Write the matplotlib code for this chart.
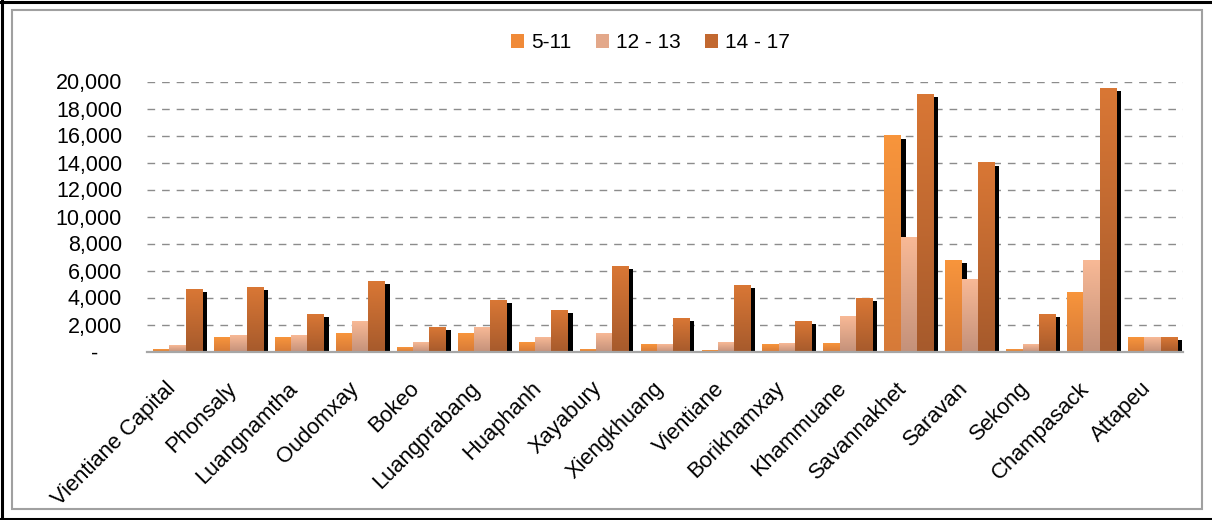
import numpy as np
import matplotlib
matplotlib.use("Agg")
import matplotlib.pyplot as plt
from matplotlib.patches import Rectangle
from matplotlib.lines import Line2D
from matplotlib.transforms import ScaledTranslation
from matplotlib.ticker import FuncFormatter, MultipleLocator

# Children by age group per province
provinces = ["Vientiane Capital", "Phonsaly", "Luangnamtha", "Oudomxay", "Bokeo",
             "Luangprabang", "Huaphanh", "Xayabury", "Xiengkhuang", "Vientiane",
             "Borikhamxay", "Khammuane", "Savannakhet", "Saravan", "Sekong",
             "Champasack", "Attapeu"]
age_5_11 = [150, 1100, 1050, 1400, 370, 1400, 740, 220, 520, 80, 520, 600,
            16000, 6800, 220, 4400, 1050]
age_12_13 = [500, 1250, 1250, 2250, 740, 1800, 1050, 1400, 520, 740, 600, 2600,
             8450, 5400, 520, 6750, 1100]
age_14_17 = [4600, 4750, 2750, 5250, 1800, 3800, 3100, 6300, 2450, 4900, 2250, 3950,
             19050, 14000, 2750, 19500, 1050]
series_labels = ["5-11", "12 - 13", "14 - 17"]

# top / bottom colours of each series' vertical gradient
grad_colors = [("#F8953C", "#D67A38"),
               ("#F8B996", "#C4917A"),
               ("#D97735", "#A65A2C")]
legend_colors = ["#F08A38", "#E3A88A", "#C26830"]

plt.rcParams["font.family"] = ["Liberation Sans", "DejaVu Sans"]
FS = 15
FS_TICK = 15.5
FS_X = 15.8

fig = plt.figure(figsize=(12.12, 5.2), dpi=100)
ax = fig.add_axes([147 / 1212, 1 - 351.5 / 520, (1183 - 147) / 1212, (351.5 - 81.5) / 520])

n = len(provinces)
idx = np.arange(n)
w = 0.267
shadow_off = ScaledTranslation(5 / 100, -3 / 100, fig.dpi_scale_trans)


def hex2rgb(h):
    return np.array(matplotlib.colors.to_rgb(h))


t = np.linspace(0, 1, 128).reshape(-1, 1, 1)
for s, vals in enumerate([age_5_11, age_12_13, age_14_17]):
    top, bot = hex2rgb(grad_colors[s][0]), hex2rgb(grad_colors[s][1])
    grad = top * (1 - t) + bot * t
    xs = idx + (s - 1) * w
    bars = ax.bar(xs, vals, w, color="none", edgecolor="none", zorder=2 + s * 0.1)
    for rect in bars:
        x0, h = rect.get_x(), rect.get_height()
        sh = Rectangle((x0, 0), w, h, facecolor="black", edgecolor="none",
                       transform=ax.transData + shadow_off, zorder=2 + s * 0.1)
        ax.add_patch(sh)
        ax.imshow(grad, extent=[x0, x0 + w, 0, h], origin="upper", aspect="auto",
                  interpolation="bilinear", zorder=2.05 + s * 0.1)

ax.set_xlim(-0.5, n - 0.5)
ax.set_ylim(0, 20000)
ax.yaxis.set_major_locator(MultipleLocator(2000))
ax.yaxis.set_major_formatter(FuncFormatter(lambda v, p: "-    " if v == 0 else f"{int(v):,}"))
ax.grid(axis="y", color="#8C8C8C", linewidth=1.0, linestyle=(0, (5.5, 5)), zorder=0.5)
ax.set_axisbelow(True)
ax.axhline(0, color="#A6A6A6", linewidth=1.6, zorder=5, clip_on=False)

for sp in ax.spines.values():
    sp.set_visible(False)
ax.tick_params(axis="y", length=0, pad=18, labelsize=FS_TICK, colors="black")
ax.tick_params(axis="x", length=0, labelsize=FS_X)
ax.set_xticks(idx)
ax.set_xticklabels(provinces, rotation=45, ha="right", va="center", rotation_mode="anchor")
lbl_off = ScaledTranslation(-5 / 100, -29 / 100, fig.dpi_scale_trans)
for lab in ax.get_xticklabels():
    lab.set_transform(lab.get_transform() + lbl_off)

handles = [Rectangle((0, 0), 1, 1, facecolor=c, edgecolor="none") for c in legend_colors]
fig.legend(handles, series_labels, loc="center", bbox_to_anchor=(650.5 / 1212, 1 - 43 / 520),
           ncol=3, frameon=False, fontsize=FS, handlelength=0.63, handleheight=0.63,
           handletextpad=0.35, columnspacing=1.15)

# chart frame: grey inner border, black outer edges
fig.add_artist(Rectangle((12 / 1212, 1 - 509 / 520), 1190 / 1212, 499 / 520,
                         facecolor="none", edgecolor="#A0A0A0", linewidth=1.5,
                         transform=fig.transFigure))
for xs_, ys_ in [([1.5 / 1212, 1.5 / 1212], [0, 1]),
                 ([0, 1], [1 - 1.5 / 520, 1 - 1.5 / 520]),
                 ([0, 1], [1.5 / 520, 1.5 / 520])]:
    fig.add_artist(Line2D(xs_, ys_, color="black", linewidth=2.2, transform=fig.transFigure))

fig.savefig("out.png", dpi=100)
